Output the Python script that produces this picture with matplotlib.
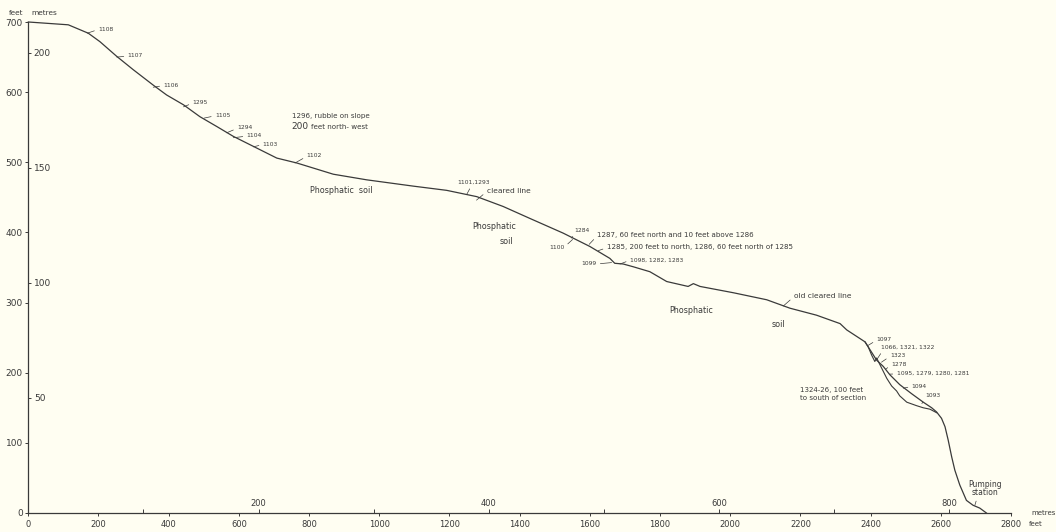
import matplotlib
matplotlib.use("Agg")
import matplotlib.pyplot as plt
import numpy as np

# ---------------- data (horizontal distance in feet, elevation in feet) ----------------
profile_dist = [0, 114, 171, 204, 252, 299, 356, 394, 442, 489, 537, 584, 632, 708, 765, 869,
                964, 1097, 1192, 1278, 1353, 1429, 1524, 1600, 1657, 1671, 1695, 1724, 1771,
                1819, 1880, 1895, 1914, 2009, 2104, 2170, 2246, 2313, 2332, 2384]
profile_elev = [700, 696, 684, 672, 651, 632, 610, 596, 582, 565, 551, 537, 525, 506, 499, 483,
                475, 466, 460, 451, 437, 420, 399, 380, 363, 356, 355, 351, 344,
                330, 323, 327, 323, 314, 304, 292, 282, 270, 261, 244]

# main section below 1097
upper_dist = [2384, 2417, 2436, 2455, 2483, 2517, 2550, 2574, 2588]
upper_elev = [244, 218, 209, 197, 183, 170, 158, 150, 144]

# 1324-26, 100 feet to south of section
lower_dist = [2384, 2393, 2403, 2412, 2417, 2427, 2446, 2460, 2474, 2483, 2503, 2531, 2550, 2569, 2588]
lower_elev = [244, 237, 225, 216, 221, 211, 192, 181, 174, 167, 158, 153, 150, 148, 143]

# foot of slope to pumping station
foot_dist = [2588, 2602, 2612, 2621, 2631, 2640, 2654, 2673, 2692, 2711, 2730]
foot_elev = [144, 135, 123, 104, 80, 61, 40, 18, 11, 7, 0]

feet_x_ticks = list(range(0, 2801, 200))
feet_y_ticks = list(range(0, 701, 100))
metre_x_ticks = [100, 200, 300, 400, 500, 600, 700, 800]
metre_x_labels = ["", "200", "", "400", "", "600", "", "800"]
metre_y_ticks = [50, 100, 150, 200]

# sample labels with leader lines: text, point on profile, text anchor
note_text = ["1108", "1107", "1106", "1295", "1105", "1294", "1104", "1103", "1102",
             "1101,1293", "cleared line", "1284", "1100",
             "1287, 60 feet north and 10 feet above 1286",
             "1285, 200 feet to north, 1286, 60 feet north of 1285",
             "1099", "1098, 1282, 1283", "old cleared line",
             "1097", "1066, 1321, 1322", "1323", "1278", "1095, 1279, 1280, 1281",
             "1094", "1093", "Pumping\nstation"]
note_px = [168, 252, 356, 442, 501, 565, 584, 641, 760,
           1249, 1277, 1548, 1551, 1598, 1624, 1662, 1686, 2151,
           2393, 2418, 2431, 2443, 2455, 2493, 2546, 2697]
note_py = [684, 650, 607, 579, 563, 542, 535, 522, 499,
           454, 446, 392, 390, 383, 374, 357, 355, 295,
           239, 219, 215, 205, 198, 178, 156, 11]
note_tx = [199, 283, 385, 468, 532, 595, 622, 668, 793,
           1268, 1306, 1555, 1527, 1621, 1648, 1619, 1714, 2181,
           2417, 2431, 2455, 2459, 2474, 2517, 2555, 2727]
note_ty = [690, 652, 610, 585, 567, 549, 538, 526, 509,
           471, 459, 403, 379, 396, 379, 355, 361, 309,
           247, 236, 224, 212, 199, 181, 167, 35]

# free labels
free_text = ["Phosphatic  soil", "Phosphatic", "soil", "Phosphatic", "soil"]
free_x = [893, 1327, 1363, 1888, 2136]
free_y = [460, 408, 387, 288, 269]

INK = "#3a3a3a"
BG = "#fffef2"

plt.rcParams["font.family"] = ["DejaVu Sans"]

fig = plt.figure(figsize=(10.56, 5.32), dpi=100, facecolor=BG)
L, R, B, T = 28.3 / 1056, 1011 / 1056, (532 - 513) / 532, (532 - 22) / 532
ax = fig.add_axes([L, B, R - L, T - B], facecolor=BG)

main_d = profile_dist + upper_dist[1:] + foot_dist[1:]
main_e = profile_elev + upper_elev[1:] + foot_elev[1:]
ax.plot(main_d, main_e, color=INK, lw=0.9, clip_on=False, solid_joinstyle="round")
ax.plot(lower_dist, lower_elev, color=INK, lw=0.8, clip_on=False, solid_joinstyle="round")

ax.set_xlim(0, 2800)
ax.set_ylim(0, 700)
for s in ["top", "right"]:
    ax.spines[s].set_visible(False)
for s in ["left", "bottom"]:
    ax.spines[s].set_color(INK)
    ax.spines[s].set_linewidth(0.9)

ax.set_xticks(feet_x_ticks)
ax.set_yticks(feet_y_ticks)
ax.tick_params(axis="x", direction="out", length=2.5, width=0.7, pad=2.5, labelsize=6, colors=INK)
ax.tick_params(axis="y", direction="out", length=2.5, width=0.7, pad=1.5, labelsize=6.5, colors=INK)

# metres scales
secx = ax.secondary_xaxis(0.0, functions=(lambda f: f * 0.3048, lambda m: m / 0.3048))
secx.set_alignment("top")
secx.set_ticks(metre_x_ticks, labels=metre_x_labels)
secx.tick_params(direction="out", length=3, width=0.7, pad=0.3, labelsize=6, colors=INK)
for s in secx.spines.values():
    s.set_visible(False)

secy = ax.secondary_yaxis(0.0, functions=(lambda f: f * 0.3048, lambda m: m / 0.3048))
secy.set_alignment("right")
secy.set_ticks(metre_y_ticks)
secy.tick_params(direction="out", length=2.5, width=0.7, pad=1.5, labelsize=6.5, colors=INK)
for s in secy.spines.values():
    s.set_visible(False)

# unit labels
fig.text(16 / 1056, 1 - 13 / 532, "feet", ha="center", va="center", fontsize=5.3, color=INK)
fig.text(44 / 1056, 1 - 13 / 532, "metres", ha="center", va="center", fontsize=5.3, color=INK)
ax.text(2857, 0, "metres", ha="left", va="center", fontsize=5, color=INK, clip_on=False)
ax.text(2852, -16, "feet", ha="left", va="center", fontsize=5, color=INK, clip_on=False)

# leader-line labels
for i, txt in enumerate(note_text):
    ha, rel, fs = "left", (0, 0.4), 4.3
    if txt in ("1100", "1099"):
        ha, rel = "right", (1, 0.5)
    if txt == "1101,1293":
        ha, rel = "center", (0.45, 0)
    if txt in ("1284",):
        rel = (0.1, 0.0)
    if txt in ("1066, 1321, 1322", "1093"):
        rel = (0.03, 0.0)
    if txt in ("1287, 60 feet north and 10 feet above 1286",
               "1285, 200 feet to north, 1286, 60 feet north of 1285"):
        fs = 5.1
    if txt in ("cleared line", "old cleared line"):
        fs = 5.4
    if txt == "Pumping\nstation":
        ha, rel, fs = "center", (0.26, 0), 5.5
    ax.annotate(txt, xy=(note_px[i], note_py[i]), xytext=(note_tx[i], note_ty[i]),
                ha=ha, va="center", fontsize=fs, color=INK, linespacing=0.95,
                annotation_clip=False,
                arrowprops=dict(arrowstyle="-", color=INK, lw=0.5, shrinkA=0.8, shrinkB=0,
                                relpos=rel))

for txt, x, y in zip(free_text, free_x, free_y):
    ax.text(x, y, txt, ha="center", va="center", fontsize=5.8, color=INK)

ax.text(750, 566, "1296, rubble on slope", ha="left", va="center", fontsize=5.1, color=INK)
ax.text(750, 551, "200", ha="left", va="center", fontsize=6.5, color=INK)
ax.text(805, 551, "feet north- west", ha="left", va="center", fontsize=5.1, color=INK)

ax.text(2198, 176, "1324-26, 100 feet", ha="left", va="center", fontsize=5, color=INK)
ax.text(2198, 164, "to south of section", ha="left", va="center", fontsize=5.1, color=INK)

fig.savefig("out.png", dpi=100, facecolor=BG)
